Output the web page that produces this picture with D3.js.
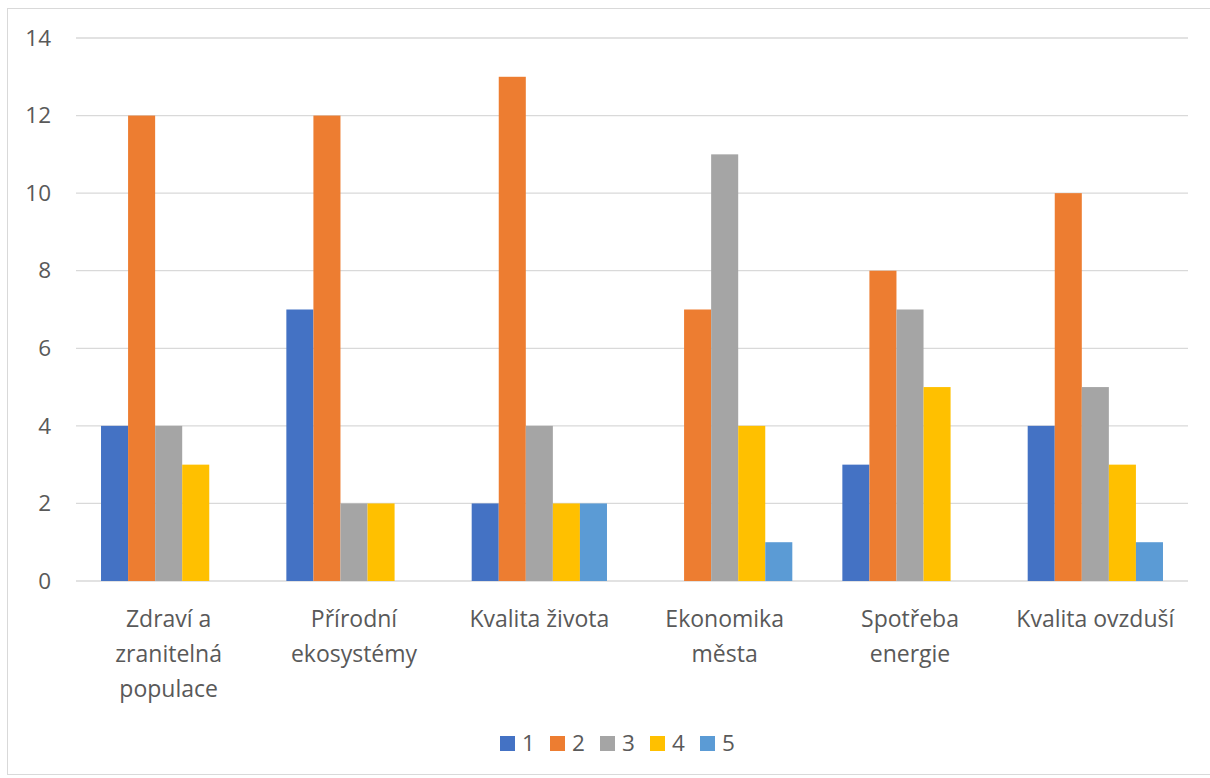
<!DOCTYPE html>
<html><head><meta charset="utf-8">
<script src="https://cdn.jsdelivr.net/npm/d3@7"></script>
<style>body{margin:0;background:#fff}svg{display:block}</style>
</head><body>
<script>
const categories = [["Zdraví a","zranitelná","populace"],["Přírodní","ekosystémy"],["Kvalita života"],["Ekonomika","města"],["Spotřeba","energie"],["Kvalita ovzduší"]];
const seriesNames = ["1","2","3","4","5"];
const s1 = [4,7,2,0,3,4];
const s2 = [12,12,13,7,8,10];
const s3 = [4,2,4,11,7,5];
const s4 = [3,2,2,4,5,3];
const s5 = [0,0,2,1,0,1];
const yTicks = [0,2,4,6,8,10,12,14];
const colors = ["#4472C4","#ED7D31","#A5A5A5","#FFC000","#5B9BD5"];
const series = [s1,s2,s3,s4,s5];

const W=1210,H=778;
const font = "Open Sans, Liberation Sans, sans-serif";
const svg = d3.select("body").append("svg").attr("width",W).attr("height",H);
svg.append("rect").attr("x",7.5).attr("y",8.5).attr("width",W).attr("height",766).attr("fill","#fff").attr("stroke","#d9d9d9");

const pLeft=76,pRight=1188,pTop=38,pBottom=581;
const x0 = d3.scaleBand().domain(d3.range(categories.length)).range([pLeft,pRight]).paddingInner(0.27).paddingOuter(0.135);
const x1 = d3.scaleBand().domain(d3.range(seriesNames.length)).range([0,x0.bandwidth()]);
const y = d3.scaleLinear().domain([0,14]).range([pBottom,pTop]);

const grid = svg.append("g");
grid.selectAll("line").data(yTicks).join("line")
  .attr("x1",pLeft).attr("x2",pRight).attr("y1",d=>y(d)).attr("y2",d=>y(d))
  .attr("stroke","#d9d9d9").attr("stroke-width",1.3);

const yAxis = d3.axisLeft(y).tickValues(yTicks).tickSize(0).tickPadding(0);
const ya = svg.append("g").attr("transform",`translate(51,0)`).call(yAxis);
ya.select(".domain").remove();
ya.selectAll("text").attr("font-family",font).attr("font-size",22.5).attr("fill","#595959");

const groups = svg.append("g").selectAll("g").data(categories).join("g")
  .attr("transform",(d,i)=>`translate(${x0(i)},0)`);
groups.selectAll("rect").data((d,i)=>series.map((s,j)=>({j,v:s[i]}))).join("rect")
  .attr("x",d=>x1(d.j)).attr("width",x1.bandwidth())
  .attr("y",d=>y(d.v)).attr("height",d=>y(0)-y(d.v))
  .attr("fill",d=>colors[d.j]);

const xl = svg.append("g");
categories.forEach((lines,i)=>{
  const t = xl.append("text").attr("text-anchor","middle").attr("font-family",font).attr("font-size",23).attr("fill","#595959");
  lines.forEach((ln,k)=>t.append("tspan").attr("x",x0(i)+x0.bandwidth()/2).attr("y",627+k*35).text(ln));
});

const leg = svg.append("g").attr("transform","translate(500,0)");
seriesNames.forEach((n,i)=>{
  const g = leg.append("g").attr("transform",`translate(${i*50},0)`);
  g.append("rect").attr("x",0).attr("y",736).attr("width",15).attr("height",15).attr("fill",colors[i]);
  g.append("text").attr("x",22).attr("y",751).attr("font-family",font).attr("font-size",22.5).attr("fill","#595959").text(n);
});
</script>
</body></html>
